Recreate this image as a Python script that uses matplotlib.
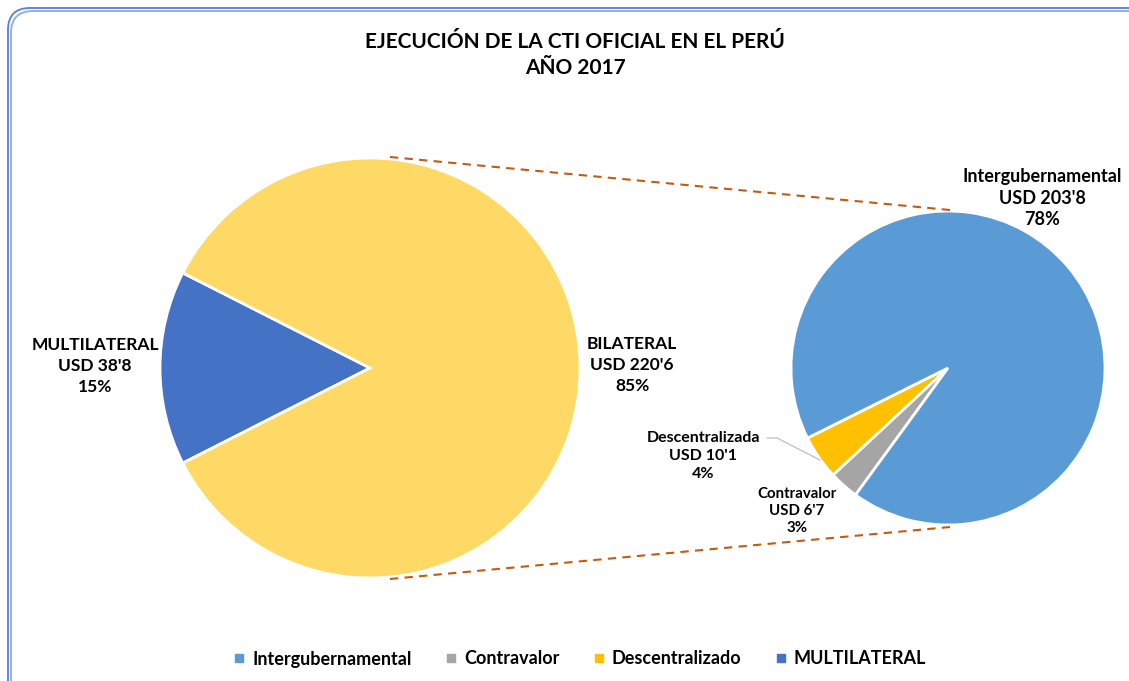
import matplotlib.pyplot as plt
from matplotlib.patches import FancyBboxPatch
from matplotlib.lines import Line2D

# left pie (total CTI)
main_names = ["MULTILATERAL", "BILATERAL"]
main_values = [38.8, 220.6]
main_usd = ["USD 38'8", "USD 220'6"]
main_pct = ["15%", "85%"]
main_colors = ["#4472C4", "#FFD966"]

# right pie (bilateral breakdown)
sub_names = ["Descentralizada", "Contravalor", "Intergubernamental"]
sub_values = [10.1, 6.7, 203.8]
sub_usd = ["USD 10'1", "USD 6'7", "USD 203'8"]
sub_pct = ["4%", "3%", "78%"]
sub_colors = ["#FFC000", "#A5A5A5", "#5B9BD5"]

legend_names = ["Intergubernamental", "Contravalor", "Descentralizado", "MULTILATERAL"]
legend_colors = ["#5B9BD5", "#A5A5A5", "#FFC000", "#4472C4"]

title = "EJECUCIÓN DE LA CTI OFICIAL EN EL PERÚ\nAÑO 2017"

W, H = 1129, 681
plt.rcParams['font.family'] = ['Lato', 'DejaVu Sans']


def Y(py):
	# pixel row -> data y (y up)
	return H - py


def main():
	fig = plt.figure(figsize=(W / 100, H / 100), dpi=100)
	ax = fig.add_axes([0, 0, 1, 1])

	wprops = dict(edgecolor="white", linewidth=2)

	# left pie, multilateral slice centred on the left
	frac = main_values[0] / sum(main_values)
	ax.pie(main_values, colors=main_colors, startangle=180 - frac * 180,
		center=(370, Y(368)), radius=210, wedgeprops=wprops, frame=True)

	# right pie
	ax.pie(sub_values, colors=sub_colors, startangle=206.5,
		center=(948, Y(368)), radius=157, wedgeprops=wprops, frame=True)

	ax.set_xlim(0, W)
	ax.set_ylim(0, H)
	ax.set_aspect("equal")
	ax.axis("off")

	# connector lines
	ax.plot([390, 950], [Y(157), Y(210)], color="#C55A11", lw=1.5, ls=(0, (4, 3)))
	ax.plot([390, 950], [Y(579), Y(527)], color="#C55A11", lw=1.5, ls=(0, (4, 3)))

	# border (double rounded line)
	for off, col in [(0, "#5F86D3"), (3, "#94AEE3")]:
		box = FancyBboxPatch((8 + off, Y(800)), 1200, 800 - 8 - off,
			boxstyle="round,pad=0,rounding_size=22", fill=False,
			edgecolor=col, lw=1.4)
		ax.add_patch(box)

	ax.text(575, Y(55), title, ha="center", va="center", fontsize=15,
		fontweight="bold", linespacing=1.4)

	lab = dict(ha="center", va="center", fontweight="bold")
	ax.text(95, Y(366), "\n".join([main_names[0], main_usd[0], main_pct[0]]),
		fontsize=12.5, linespacing=1.38, **lab)
	ax.text(632, Y(365), "\n".join([main_names[1], main_usd[1], main_pct[1]]),
		fontsize=12.5, linespacing=1.38, **lab)
	ax.text(1042, Y(198), "\n".join([sub_names[2], sub_usd[2], sub_pct[2]]),
		fontsize=13, linespacing=1.33, **lab)
	ax.text(703, Y(456), "\n".join([sub_names[0], sub_usd[0], sub_pct[0]]),
		fontsize=11.5, linespacing=1.34, **lab)
	ax.text(797, Y(511), "\n".join([sub_names[1], sub_usd[1], sub_pct[1]]),
		fontsize=10.8, linespacing=1.3, **lab)

	# leader line for Descentralizada
	ax.plot([767, 777, 820], [Y(438), Y(438), Y(460)], color="#BFBFBF", lw=0.9)

	handles = [Line2D([], [], marker="s", ls="", color=c, markersize=6) for c in legend_colors]
	fig.legend(handles, legend_names, loc="center", bbox_to_anchor=(580 / W, 1 - 659 / H),
		ncol=4, frameon=False, handlelength=0.6, handletextpad=0.4, columnspacing=1.9,
		prop=dict(weight="bold", size=13))

	fig.savefig("out.png", dpi=100)


if __name__ == "__main__":
	main()
